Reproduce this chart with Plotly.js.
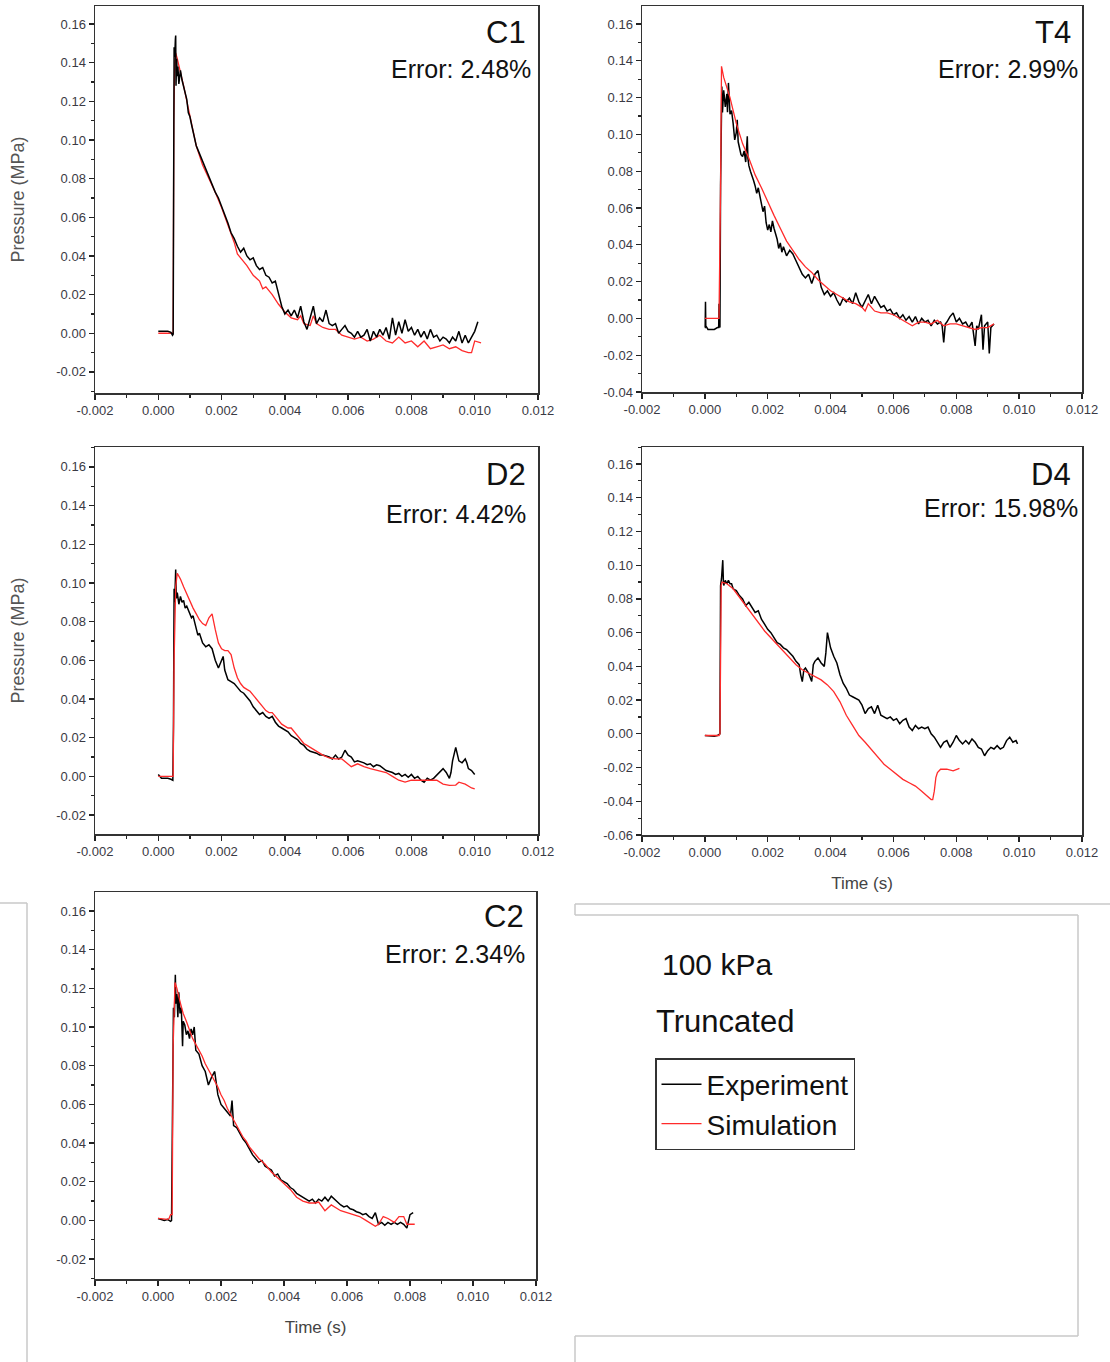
<!DOCTYPE html>
<html><head><meta charset="utf-8">
<script src="https://cdn.plot.ly/plotly-3.0.1.min.js"></script>
<style>html,body{margin:0;padding:0;background:#fff}#chart{width:1110px;height:1362px}</style>
</head><body><div id="chart"></div>
<script>
// ---------- tick labels ----------
const xTickVals = [-0.002,0,0.002,0.004,0.006,0.008,0.010,0.012];
const xTickText = ['-0.002','0.000','0.002','0.004','0.006','0.008','0.010','0.012'];
const yTickValsA = [-0.02,0,0.02,0.04,0.06,0.08,0.10,0.12,0.14,0.16];
const yTickTextA = ['-0.02','0.00','0.02','0.04','0.06','0.08','0.10','0.12','0.14','0.16'];
const yTickValsT4 = [-0.04,-0.02,0,0.02,0.04,0.06,0.08,0.10,0.12,0.14,0.16];
const yTickTextT4 = ['-0.04','-0.02','0.00','0.02','0.04','0.06','0.08','0.10','0.12','0.14','0.16'];
const yTickValsD4 = [-0.06,-0.04,-0.02,0,0.02,0.04,0.06,0.08,0.10,0.12,0.14,0.16];
const yTickTextD4 = ['-0.06','-0.04','-0.02','0.00','0.02','0.04','0.06','0.08','0.10','0.12','0.14','0.16'];

const panelNames = ['C1','T4','D2','D4','C2'];
const panelErrors = ['Error: 2.48%','Error: 2.99%','Error: 4.42%','Error: 15.98%','Error: 2.34%'];
const seriesNames = ['Experiment','Simulation'];

// ---------- C1 ----------
const c1ExpT = [0,0.0001,0.0002,0.0003,0.0004,0.00045,0.00047,0.00048,0.00049,0.0005,0.00052,0.00054,0.00055,0.00056,0.00058,0.0006,0.00062,0.00065,0.0007,0.00075,0.0008,0.00085,0.0009,0.00095,0.001,0.00105,0.0011,0.00115,0.0012,0.00125,0.0013,0.00135,0.0014,0.0015,0.0016,0.0017,0.0018,0.0019,0.002,0.0021,0.0022,0.0023,0.0024,0.0025,0.0026,0.0027,0.0028,0.0029,0.003,0.0031,0.0032,0.0033,0.0034,0.0035,0.0036,0.0037,0.0038,0.0039,0.004,0.0041,0.0042,0.0043,0.0044,0.0045,0.0046,0.0047,0.0048,0.0049,0.005,0.0051,0.0052,0.0053,0.0054,0.0055,0.0056,0.0057,0.0058,0.0059,0.006,0.0061,0.0062,0.0063,0.0064,0.0065,0.0066,0.0067,0.0068,0.0069,0.007,0.0071,0.0072,0.0073,0.0074,0.0075,0.0076,0.0077,0.0078,0.0079,0.008,0.0081,0.0082,0.0083,0.0084,0.0085,0.0086,0.0087,0.0088,0.0089,0.009,0.0091,0.0092,0.0093,0.0094,0.0095,0.0096,0.0097,0.0098,0.0099,0.01,0.0101];
const c1ExpP = [0.001,0.001,0.0008,0.001,0.0005,-0.001,-0.0005,0.035,0.112,0.148,0.143,0.152,0.154,0.128,0.142,0.133,0.138,0.129,0.136,0.131,0.128,0.124,0.121,0.114,0.112,0.108,0.104,0.100,0.097,0.095,0.093,0.091,0.088,0.084,0.081,0.077,0.073,0.070,0.066,0.062,0.057,0.052,0.049,0.045,0.042,0.044,0.040,0.038,0.039,0.035,0.033,0.034,0.030,0.029,0.026,0.027,0.020,0.014,0.010,0.012,0.009,0.012,0.008,0.014,0.006,0.002,0.008,0.014,0.005,0.008,0.006,0.012,0.005,0.004,0.005,0.0,0.002,0.004,0.001,0.0,-0.002,0.001,-0.002,-0.001,0.002,-0.004,0.001,-0.002,0.002,-0.001,0.003,-0.003,0.008,-0.001,0.006,0.0,0.007,0.001,0.003,-0.001,0.002,-0.002,0.001,-0.003,0.002,-0.002,-0.001,-0.004,-0.002,-0.003,-0.005,-0.002,-0.004,0.001,-0.005,-0.001,-0.005,-0.002,0.001,0.006];
const c1SimT = [0,0.0004,0.00047,0.00049,0.00052,0.00055,0.0006,0.0008,0.001,0.0012,0.0014,0.0016,0.0018,0.002,0.0022,0.0024,0.0025,0.0026,0.0028,0.003,0.0032,0.0033,0.0034,0.0036,0.0038,0.004,0.0042,0.0044,0.0045,0.0046,0.0048,0.0049,0.005,0.0052,0.0054,0.0056,0.0058,0.006,0.0062,0.0064,0.0066,0.0068,0.007,0.0072,0.0074,0.0076,0.0078,0.008,0.0082,0.0084,0.0086,0.0088,0.009,0.0092,0.0094,0.0096,0.0098,0.0099,0.01,0.0102];
const c1SimP = [0,0,0,0.11,0.14,0.145,0.142,0.128,0.112,0.097,0.087,0.080,0.073,0.065,0.056,0.047,0.041,0.039,0.035,0.030,0.027,0.023,0.024,0.020,0.015,0.011,0.008,0.007,0.009,0.005,0.004,0.009,0.005,0.003,0.002,0.002,-0.001,-0.002,-0.003,-0.002,-0.004,-0.003,-0.001,-0.004,-0.005,-0.002,-0.005,-0.004,-0.007,-0.004,-0.008,-0.007,-0.006,-0.008,-0.007,-0.009,-0.010,-0.010,-0.004,-0.005];

// ---------- T4 ----------
const t4ExpT = [0,0.00001,0.00002,0.00003,0.0001,0.0002,0.0003,0.0004,0.00044,0.00045,0.00046,0.00048,0.0005,0.00052,0.00054,0.00056,0.0006,0.00065,0.0007,0.00072,0.00075,0.0008,0.00085,0.0009,0.00095,0.001,0.00103,0.00106,0.0011,0.00115,0.0012,0.00125,0.0013,0.00135,0.00137,0.0014,0.00145,0.0015,0.00155,0.0016,0.00165,0.0017,0.00175,0.0018,0.00185,0.0019,0.00195,0.002,0.00205,0.0021,0.00215,0.0022,0.00225,0.0023,0.00235,0.0024,0.00245,0.0025,0.0026,0.0027,0.0028,0.0029,0.003,0.0031,0.0032,0.0033,0.0034,0.0035,0.0036,0.0037,0.0038,0.0039,0.004,0.0041,0.0042,0.0043,0.0044,0.0045,0.0046,0.0047,0.0048,0.0049,0.005,0.0051,0.0052,0.0053,0.0054,0.0055,0.0056,0.0057,0.0058,0.0059,0.006,0.0061,0.0062,0.0063,0.0064,0.0065,0.0066,0.0067,0.0068,0.0069,0.007,0.0071,0.0072,0.0073,0.0074,0.0075,0.00755,0.0076,0.00765,0.0077,0.0078,0.0079,0.008,0.0081,0.0082,0.0083,0.0084,0.0085,0.0086,0.00865,0.0087,0.0088,0.00885,0.0089,0.009,0.00905,0.0091,0.0092];
const t4ExpP = [-0.005,-0.005,0.009,-0.004,-0.006,-0.006,-0.006,-0.005,-0.005,0.008,-0.004,-0.005,0.072,0.118,0.126,0.112,0.124,0.115,0.122,0.112,0.128,0.111,0.113,0.106,0.097,0.101,0.108,0.096,0.093,0.089,0.088,0.091,0.085,0.099,0.087,0.083,0.080,0.078,0.075,0.072,0.068,0.071,0.066,0.062,0.058,0.061,0.052,0.048,0.051,0.047,0.053,0.049,0.046,0.043,0.038,0.041,0.036,0.039,0.034,0.037,0.035,0.031,0.027,0.024,0.022,0.024,0.019,0.024,0.026,0.017,0.013,0.015,0.012,0.014,0.010,0.007,0.011,0.009,0.011,0.008,0.014,0.009,0.006,0.010,0.013,0.008,0.012,0.009,0.006,0.007,0.004,0.005,0.002,0.003,0.0,0.002,-0.001,0.001,-0.002,0.001,-0.003,0.0,-0.002,-0.001,-0.004,-0.001,-0.003,-0.002,-0.004,-0.013,-0.003,-0.002,0.001,0.003,-0.002,0.0,-0.003,-0.002,-0.005,-0.002,-0.015,-0.004,-0.006,0.002,-0.017,-0.004,-0.002,-0.019,-0.005,-0.003];
const t4SimT = [0,0.00045,0.0005,0.00053,0.0006,0.0008,0.001,0.0012,0.0014,0.0016,0.0018,0.002,0.0022,0.0024,0.0026,0.0028,0.003,0.0032,0.0034,0.0036,0.0038,0.004,0.0042,0.0044,0.0046,0.0048,0.005,0.0051,0.0052,0.0053,0.0054,0.0056,0.0058,0.006,0.0062,0.0064,0.0066,0.0068,0.007,0.0072,0.0074,0.0076,0.0078,0.008,0.0082,0.0084,0.0086,0.0088,0.009,0.0092];
const t4SimP = [0,0,0.07,0.137,0.131,0.120,0.106,0.095,0.087,0.078,0.071,0.063,0.056,0.049,0.042,0.037,0.032,0.028,0.025,0.021,0.018,0.015,0.013,0.011,0.009,0.008,0.006,0.004,0.008,0.006,0.004,0.003,0.003,0.002,0.0,-0.002,-0.004,-0.002,-0.002,-0.003,-0.001,-0.004,-0.003,-0.003,-0.004,-0.005,-0.006,-0.005,-0.005,-0.003];

// ---------- D2 ----------
const d2ExpT = [0,0.00005,0.0001,0.0002,0.0003,0.0004,0.00046,0.00048,0.00049,0.0005,0.00052,0.00055,0.00057,0.0006,0.00065,0.0007,0.00075,0.0008,0.00085,0.0009,0.001,0.00105,0.0011,0.0012,0.00125,0.0013,0.0014,0.0015,0.0016,0.0017,0.0018,0.0019,0.002,0.00205,0.0021,0.0022,0.0023,0.0024,0.0025,0.0026,0.0027,0.0028,0.0029,0.003,0.0031,0.0032,0.0033,0.0034,0.0035,0.0036,0.0037,0.0038,0.0039,0.004,0.0041,0.0042,0.0043,0.0044,0.0045,0.0046,0.0047,0.0048,0.0049,0.005,0.0051,0.0052,0.0053,0.0054,0.0055,0.0056,0.0057,0.0058,0.0059,0.006,0.0061,0.0062,0.0063,0.0064,0.0065,0.0066,0.0067,0.0068,0.0069,0.007,0.0071,0.0072,0.0073,0.0074,0.0075,0.0076,0.0077,0.0078,0.0079,0.008,0.0081,0.0082,0.0083,0.0084,0.0085,0.0086,0.0087,0.0088,0.0089,0.009,0.0091,0.0092,0.00925,0.0093,0.0094,0.00945,0.0095,0.0096,0.0097,0.00975,0.0098,0.0099,0.01];
const d2ExpP = [0.001,0.0,-0.001,-0.001,-0.001,-0.0015,-0.002,0.026,0.065,0.097,0.090,0.107,0.092,0.095,0.089,0.093,0.090,0.091,0.087,0.088,0.084,0.082,0.083,0.076,0.073,0.074,0.069,0.067,0.068,0.066,0.060,0.056,0.060,0.062,0.055,0.050,0.049,0.048,0.046,0.044,0.043,0.041,0.039,0.036,0.034,0.032,0.033,0.031,0.030,0.031,0.028,0.026,0.025,0.024,0.023,0.021,0.020,0.019,0.017,0.016,0.014,0.013,0.0125,0.012,0.011,0.011,0.0105,0.010,0.009,0.011,0.009,0.010,0.0135,0.011,0.010,0.0075,0.008,0.0075,0.007,0.006,0.0065,0.005,0.006,0.0055,0.004,0.003,0.0025,0.002,0.001,0.0015,0.0,0.001,-0.0005,0.001,-0.001,0.0,-0.002,-0.003,-0.001,-0.002,-0.001,0.0005,0.002,0.004,0.002,-0.001,0.002,0.008,0.015,0.012,0.008,0.007,0.009,0.007,0.004,0.003,0.001];
const d2SimT = [0,0.00047,0.0005,0.00055,0.0006,0.0007,0.0008,0.0009,0.001,0.0011,0.0012,0.0013,0.0014,0.0015,0.0016,0.0017,0.0018,0.0019,0.002,0.0021,0.0022,0.0023,0.0024,0.0025,0.0026,0.0027,0.0028,0.0029,0.003,0.0031,0.0032,0.0033,0.0034,0.0035,0.0036,0.0037,0.0038,0.0039,0.004,0.0041,0.0042,0.0043,0.0044,0.0045,0.0046,0.0047,0.0048,0.005,0.0052,0.0054,0.0056,0.0058,0.006,0.0061,0.0063,0.0065,0.0067,0.007,0.0072,0.0074,0.0076,0.0078,0.008,0.0083,0.0086,0.0088,0.009,0.0092,0.0094,0.0095,0.0097,0.0099,0.01];
const d2SimP = [0,0,0.06,0.098,0.105,0.102,0.098,0.094,0.090,0.087,0.084,0.081,0.079,0.078,0.082,0.084,0.076,0.069,0.066,0.065,0.065,0.063,0.056,0.051,0.048,0.046,0.045,0.044,0.042,0.040,0.038,0.036,0.034,0.033,0.033,0.031,0.029,0.027,0.026,0.025,0.025,0.023,0.021,0.019,0.017,0.016,0.015,0.013,0.011,0.0095,0.009,0.009,0.006,0.005,0.0065,0.005,0.004,0.003,0.002,0.0,-0.002,-0.003,-0.002,-0.002,-0.002,-0.002,-0.004,-0.0047,-0.0045,-0.003,-0.004,-0.006,-0.0065];

// ---------- D4 ----------
const d4ExpT = [0,0.0001,0.0002,0.0003,0.0004,0.00046,0.00048,0.00049,0.0005,0.00053,0.00055,0.00057,0.00059,0.0006,0.00065,0.0007,0.00075,0.0008,0.00085,0.0009,0.001,0.0011,0.0012,0.0013,0.0014,0.0015,0.0016,0.0017,0.0018,0.0019,0.002,0.0021,0.0022,0.0023,0.0024,0.0025,0.0026,0.0027,0.0028,0.0029,0.003,0.00305,0.0031,0.00315,0.0032,0.0033,0.0034,0.00345,0.0035,0.0036,0.0037,0.0038,0.00385,0.0039,0.004,0.0041,0.0042,0.0043,0.0044,0.0045,0.0046,0.0047,0.0048,0.0049,0.005,0.0051,0.0052,0.0053,0.0054,0.0055,0.0056,0.0057,0.0058,0.0059,0.006,0.0061,0.0062,0.0063,0.0064,0.0065,0.0066,0.0067,0.0068,0.0069,0.007,0.0071,0.0072,0.0073,0.0074,0.0075,0.0076,0.0077,0.0078,0.0079,0.008,0.0081,0.0082,0.0083,0.0084,0.0085,0.0086,0.0087,0.0088,0.0089,0.009,0.0091,0.0092,0.0093,0.0094,0.0095,0.0096,0.0097,0.0098,0.0099,0.00995];
const d4ExpP = [-0.001,-0.0012,-0.001,-0.0015,-0.001,0.0,0.0,0.047,0.088,0.092,0.096,0.103,0.090,0.088,0.091,0.089,0.091,0.089,0.089,0.086,0.085,0.082,0.080,0.076,0.078,0.075,0.072,0.073,0.068,0.065,0.062,0.060,0.057,0.054,0.053,0.051,0.050,0.048,0.046,0.043,0.041,0.035,0.031,0.038,0.039,0.036,0.031,0.041,0.043,0.045,0.042,0.040,0.048,0.060,0.051,0.046,0.042,0.035,0.030,0.027,0.023,0.022,0.021,0.020,0.017,0.012,0.015,0.016,0.012,0.017,0.011,0.010,0.009,0.010,0.008,0.009,0.006,0.008,0.009,0.004,0.002,0.005,0.003,0.004,0.003,0.004,0.0,-0.002,-0.005,-0.008,-0.005,-0.004,-0.008,-0.005,-0.001,-0.004,-0.006,-0.004,-0.006,-0.003,-0.005,-0.008,-0.009,-0.013,-0.010,-0.008,-0.009,-0.007,-0.009,-0.008,-0.004,-0.002,-0.005,-0.004,-0.006];
const d4SimT = [0,0.00045,0.00048,0.0005,0.00052,0.00055,0.0007,0.0009,0.0011,0.0013,0.0015,0.0017,0.0019,0.0021,0.0023,0.0025,0.0027,0.0029,0.0031,0.0033,0.0035,0.0037,0.0039,0.0041,0.0043,0.0045,0.0047,0.0049,0.0051,0.0053,0.0055,0.0057,0.0059,0.0061,0.0063,0.0065,0.0067,0.0069,0.0071,0.0072,0.00725,0.0073,0.00735,0.0074,0.0075,0.0077,0.0079,0.0081];
const d4SimP = [-0.001,-0.001,0.0,0.045,0.088,0.090,0.089,0.086,0.081,0.076,0.071,0.066,0.061,0.057,0.053,0.049,0.045,0.041,0.038,0.036,0.034,0.032,0.029,0.025,0.019,0.011,0.005,-0.001,-0.005,-0.0095,-0.014,-0.018,-0.021,-0.024,-0.027,-0.029,-0.031,-0.034,-0.037,-0.039,-0.039,-0.034,-0.026,-0.023,-0.021,-0.021,-0.022,-0.0205];

// ---------- C2 ----------
const c2ExpT = [0,0.0001,0.0002,0.0003,0.0004,0.00043,0.00045,0.00047,0.00049,0.00052,0.00055,0.00057,0.0006,0.00063,0.00066,0.0007,0.00074,0.00078,0.0008,0.00085,0.0009,0.00095,0.001,0.00105,0.0011,0.00115,0.0012,0.0013,0.0014,0.0015,0.0016,0.0017,0.0018,0.0019,0.002,0.0021,0.0022,0.0023,0.00235,0.0024,0.0025,0.0026,0.0027,0.0028,0.0029,0.003,0.0031,0.0032,0.0033,0.0034,0.0035,0.0036,0.0037,0.0038,0.0039,0.004,0.0041,0.0042,0.0043,0.0044,0.0045,0.0046,0.0047,0.0048,0.0049,0.005,0.0051,0.0052,0.0053,0.0054,0.0055,0.0056,0.0057,0.0058,0.0059,0.006,0.0061,0.0062,0.0063,0.0064,0.0065,0.0066,0.0067,0.0068,0.0069,0.007,0.0071,0.0072,0.0073,0.0074,0.0075,0.0076,0.0077,0.0078,0.0079,0.008,0.0081];
const c2ExpP = [0.001,0.0005,0.0,0.0005,-0.0005,0.0,0.04,0.095,0.110,0.105,0.127,0.112,0.117,0.105,0.118,0.107,0.110,0.090,0.103,0.101,0.096,0.098,0.094,0.099,0.096,0.100,0.088,0.086,0.080,0.077,0.070,0.074,0.077,0.065,0.060,0.058,0.056,0.054,0.062,0.049,0.048,0.045,0.042,0.040,0.037,0.034,0.032,0.030,0.031,0.028,0.027,0.026,0.023,0.024,0.021,0.020,0.019,0.017,0.016,0.014,0.013,0.012,0.011,0.010,0.011,0.009,0.011,0.010,0.012,0.010,0.0125,0.011,0.009,0.008,0.007,0.0075,0.006,0.0055,0.0045,0.004,0.003,0.0035,0.002,0.001,0.004,-0.002,-0.001,-0.0025,-0.001,-0.002,-0.001,-0.002,-0.001,-0.002,-0.004,0.003,0.004];
const c2SimT = [0,0.0003,0.00035,0.0004,0.00045,0.00048,0.00054,0.0006,0.0007,0.0008,0.0009,0.001,0.0011,0.0012,0.0013,0.0014,0.0015,0.0016,0.0017,0.0018,0.0019,0.002,0.0021,0.0022,0.0023,0.0024,0.0025,0.0026,0.0027,0.0028,0.0029,0.003,0.0032,0.0034,0.0036,0.0038,0.004,0.0042,0.0044,0.0046,0.0048,0.005,0.0051,0.0052,0.0053,0.0055,0.0057,0.0058,0.006,0.0062,0.0064,0.0066,0.0068,0.0069,0.007,0.00715,0.0073,0.0075,0.00765,0.0078,0.0079,0.0081,0.00815];
const c2SimP = [0.001,0.0005,0.001,0.003,0.003,0.09,0.123,0.120,0.113,0.107,0.103,0.098,0.094,0.091,0.088,0.085,0.081,0.078,0.075,0.072,0.069,0.065,0.062,0.058,0.055,0.052,0.049,0.046,0.043,0.041,0.038,0.036,0.032,0.029,0.025,0.022,0.019,0.016,0.012,0.010,0.009,0.009,0.0095,0.007,0.005,0.008,0.006,0.005,0.004,0.003,0.002,0.0,-0.002,-0.003,-0.002,0.002,0.001,-0.001,0.002,0.002,-0.002,-0.002,-0.002];

// ---------- build ----------
const W = 1110, H = 1362;
const px = v => v / W;
const py = v => 1 - v / H;
const FONT = 'Liberation Sans, Arial, sans-serif';
const RED = '#ff2b2b';

const panels = [
  {expT:c1ExpT, expP:c1ExpP, simT:c1SimT, simP:c1SimP, x:[95,538], y:[6,393], yr:[-0.0309,0.1693], yv:yTickValsA, yt:yTickTextA, ytitle:true, xtitle:false, simOnTop:false, nameR:528, nameY:33, errR:533, errY:69},
  {expT:t4ExpT, expP:t4ExpP, simT:t4SimT, simP:t4SimP, x:[642,1082], y:[6,392], yr:[-0.04,0.1698], yv:yTickValsT4, yt:yTickTextT4, ytitle:false, xtitle:false, simOnTop:true, nameR:1073, nameY:33, errR:1080, errY:69},
  {expT:d2ExpT, expP:d2ExpP, simT:d2SimT, simP:d2SimP, x:[95,538], y:[447,834], yr:[-0.0298,0.1703], yv:yTickValsA, yt:yTickTextA, ytitle:true, xtitle:false, simOnTop:true, nameR:528, nameY:474, errR:528, errY:514},
  {expT:d4ExpT, expP:d4ExpP, simT:d4SimT, simP:d4SimP, x:[642,1082], y:[447,835], yr:[-0.06,0.1701], yv:yTickValsD4, yt:yTickTextD4, ytitle:false, xtitle:true, simOnTop:true, nameR:1073, nameY:474, errR:1080, errY:508},
  {expT:c2ExpT, expP:c2ExpP, simT:c2SimT, simP:c2SimP, x:[95,536], y:[892,1279], yr:[-0.0303,0.1698], yv:yTickValsA, yt:yTickTextA, ytitle:false, xtitle:true, simOnTop:true, nameR:526, nameY:916, errR:527, errY:954}
];

const data = [];
const layout = {
  width: W, height: H,
  margin: {l:0, r:0, t:0, b:0},
  paper_bgcolor: '#fff', plot_bgcolor: '#fff',
  font: {family: FONT, color: '#333'},
  showlegend: true,
  legend: {x: px(655), y: py(1058), xanchor:'left', yanchor:'top',
    bordercolor:'#333', borderwidth:1.5, bgcolor:'#fff',
    font:{family:FONT, size:28, color:'#111'}, traceorder:'normal',
    tracegroupgap:0, itemwidth:40},
  annotations: [], shapes: []
};

panels.forEach((p, i) => {
  const n = i === 0 ? '' : String(i + 1);
  const xa = 'x' + n, ya = 'y' + n;
  const exp = {x:p.expT, y:p.expP, xaxis:xa, yaxis:ya, type:'scatter', mode:'lines',
    name:seriesNames[0], legendgroup:'e', legendrank:1, showlegend:i===0, line:{color:'#000', width:1.5}};
  const sim = {x:p.simT, y:p.simP, xaxis:xa, yaxis:ya, type:'scatter', mode:'lines',
    name:seriesNames[1], legendgroup:'s', legendrank:2, showlegend:i===0, line:{color:RED, width:1.3}};
  if (p.simOnTop) { data.push(exp, sim); } else { data.push(sim, exp); }

  layout['xaxis' + n] = {
    domain:[px(p.x[0]), px(p.x[1])], anchor:ya, range:[-0.002, 0.012],
    tickmode:'array', tickvals:xTickVals, ticktext:xTickText,
    ticks:'outside', ticklen:5, tickwidth:1.3, tickcolor:'#222',
    minor:{tickmode:'linear', tick0:-0.002, dtick:0.001, ticks:'outside', ticklen:3, tickwidth:1.2, tickcolor:'#222', showgrid:false},
    showline:true, linecolor:'#333', linewidth:1.5, mirror:true,
    showgrid:false, zeroline:false, fixedrange:true,
    tickfont:{family:FONT, size:13, color:'#3a3a44'},
    title: p.xtitle ? {text:'Time (s)', font:{family:FONT, size:17, color:'#444'}, standoff:18} : {text:''}
  };
  layout['yaxis' + n] = {
    domain:[py(p.y[1]), py(p.y[0])], anchor:xa, range:p.yr,
    tickmode:'array', tickvals:p.yv, ticktext:p.yt,
    ticks:'outside', ticklen:5, tickwidth:1.3, tickcolor:'#222',
    minor:{tickmode:'linear', tick0:0, dtick:0.01, ticks:'outside', ticklen:3, tickwidth:1.2, tickcolor:'#222', showgrid:false},
    showline:true, linecolor:'#333', linewidth:1.5, mirror:true,
    showgrid:false, zeroline:false, fixedrange:true,
    tickfont:{family:FONT, size:13, color:'#3a3a44'},
    title: p.ytitle ? {text:'Pressure (MPa)', font:{family:FONT, size:18, color:'#555'}, standoff:27} : {text:''}
  };
  layout.annotations.push(
    {xref:'paper', yref:'paper', x:px(p.nameR), y:py(p.nameY), xanchor:'right', yanchor:'middle',
     text:panelNames[i], showarrow:false, font:{family:FONT, size:31, color:'#111'}},
    {xref:'paper', yref:'paper', x:px(p.errR), y:py(p.errY), xanchor:'right', yanchor:'middle',
     text:panelErrors[i], showarrow:false, font:{family:FONT, size:25, color:'#111'}}
  );
});

layout.annotations.push(
  {xref:'paper', yref:'paper', x:px(660), y:py(965), xanchor:'left', yanchor:'middle',
   text:'100 kPa', showarrow:false, font:{family:FONT, size:30, color:'#111'}},
  {xref:'paper', yref:'paper', x:px(654), y:py(1022), xanchor:'left', yanchor:'middle',
   text:'Truncated', showarrow:false, font:{family:FONT, size:31, color:'#111'}}
);

// light gray frames of the pasted image panels
const g = {color:'#c8c8c8', width:1.5};
[[0,903,27,903],[27,903,27,1362],[575,904,1110,904],[575,904,575,915],[575,915,1078,915],
 [1078,915,1078,1336],[575,1336,1078,1336],[575,1336,575,1362]].forEach(s => {
  layout.shapes.push({type:'line', xref:'paper', yref:'paper', x0:px(s[0]), y0:py(s[1]), x1:px(s[2]), y1:py(s[3]), line:g, layer:'below'});
});

Plotly.newPlot('chart', data, layout, {staticPlot:true, displayModeBar:false});
</script></body></html>
